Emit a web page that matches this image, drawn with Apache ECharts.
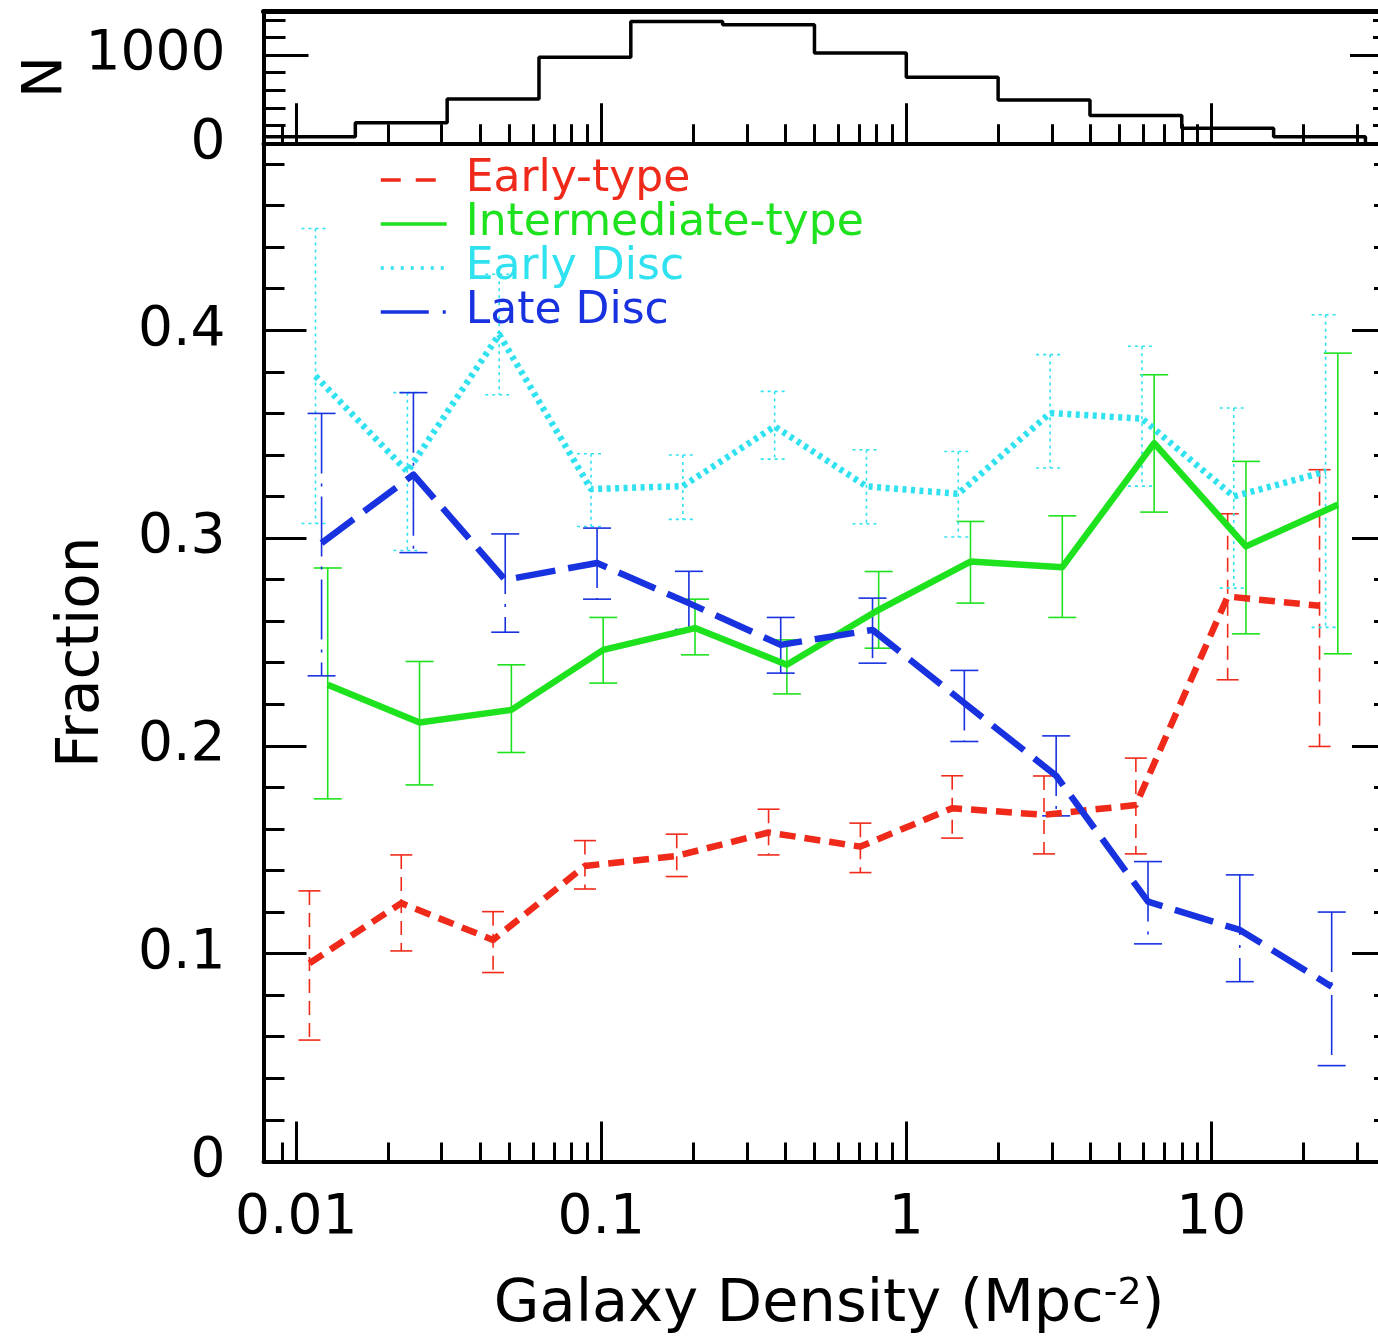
<!DOCTYPE html>
<html>
<head>
<meta charset="utf-8">
<script src="https://cdn.jsdelivr.net/npm/echarts@6/dist/echarts.min.js"></script>
<style>
html,body{margin:0;padding:0;background:#ffffff;}
#chart{width:1378px;height:1339px;}
</style>
</head>
<body>
<div id="chart"></div>
<script>
// ---------------- DATA ----------------
// Galaxy density bin centres (Mpc^-2), logarithmic bins of factor 2
const binCentres = [0.01105, 0.0221, 0.0442, 0.0884, 0.1768, 0.3536, 0.7071, 1.414, 2.828, 5.657, 11.31, 22.63];

// Histogram (top panel)
const histEdges  = [0.0078125, 0.015625, 0.03125, 0.0625, 0.125, 0.25, 0.5, 1, 2, 4, 8, 16, 32];
const histCounts = [75, 234, 503, 977, 1382, 1344, 1023, 750, 492, 314, 170, 75];

// Early-type (red)
const earlyType   = [0.0954, 0.1243, 0.1066, 0.1422, 0.1470, 0.1583, 0.1515, 0.1700, 0.1668, 0.1715, 0.2719, 0.2674];
const earlyTypeLo = [0.0584, 0.1013, 0.0909, 0.1311, 0.1371, 0.1475, 0.1390, 0.1556, 0.1480, 0.1480, 0.2318, 0.1997];
const earlyTypeHi = [0.1302, 0.1475, 0.1202, 0.1544, 0.1575, 0.1695, 0.1628, 0.1856, 0.1855, 0.1941, 0.3117, 0.3329];

// Intermediate-type (green)
const intermediate   = [0.2294, 0.2112, 0.2173, 0.2462, 0.2567, 0.2390, 0.2655, 0.2887, 0.2860, 0.3457, 0.2960, 0.3160];
const intermediateLo = [0.1745, 0.1812, 0.1968, 0.2302, 0.2438, 0.2250, 0.2470, 0.2687, 0.2618, 0.3125, 0.2539, 0.2443];
const intermediateHi = [0.2856, 0.2406, 0.2390, 0.2618, 0.2706, 0.2510, 0.2839, 0.3080, 0.3107, 0.3786, 0.3369, 0.3890];

// Early Disc (cyan)
const earlyDisc   = [0.3780, 0.3320, 0.3980, 0.3236, 0.3250, 0.3537, 0.3249, 0.3213, 0.3602, 0.3575, 0.3200, 0.3320];
const earlyDiscLo = [0.3070, 0.2940, 0.3690, 0.3056, 0.3090, 0.3380, 0.3069, 0.3005, 0.3337, 0.3250, 0.2759, 0.2570];
const earlyDiscHi = [0.4490, 0.3700, 0.4270, 0.3406, 0.3400, 0.3706, 0.3425, 0.3417, 0.3883, 0.3923, 0.3626, 0.4075];

// Late Disc (blue)
const lateDisc   = [0.2976, 0.3305, 0.2799, 0.2880, 0.2687, 0.2486, 0.2558, 0.2206, 0.1856, 0.1250, 0.1114, 0.0841];
const lateDiscLo = [0.2337, 0.2930, 0.2547, 0.2706, 0.2560, 0.2350, 0.2398, 0.2021, 0.1663, 0.1047, 0.0865, 0.0461];
const lateDiscHi = [0.3600, 0.3700, 0.3020, 0.3048, 0.2840, 0.2618, 0.2711, 0.2363, 0.2048, 0.1443, 0.1379, 0.1200];

// Small horizontal offsets applied per sample in the original plot (multiplicative in density)
const xShift = { early: 1.0, earlyDisc: 1.047, lateDisc: 1.096, intermediate: 1.148 };

// Axis ticks / labels
const xMajorLabels = ['0.01', '0.1', '1', '10'];
const xMinorTicks = [0.009, 0.02, 0.03, 0.04, 0.05, 0.06, 0.07, 0.08, 0.09,
                     0.2, 0.3, 0.4, 0.5, 0.6, 0.7, 0.8, 0.9,
                     2, 3, 4, 5, 6, 7, 8, 9, 20, 30];
const X_MIN = 0.0078125, X_MAX = 40;
const FRAC_MAX = 0.49, N_MAX = 1500;

// ---------------- STYLE ----------------
const FONT = 'DejaVu Sans';
const RED = '#f02a1a', GREEN = '#1ee21e', CYAN = '#30e2f0', BLUE = '#1832e0';
const BLACK = '#000000';

// ---------------- BUILD ----------------
function pts(ys, shift) { return ys.map((y, i) => [binCentres[i] * shift, y]); }
function bars(lo, hi, shift) { return lo.map((l, i) => [binCentres[i] * shift, l, hi[i]]); }

const histData = histCounts.map((c, i) => [histEdges[i], c]).concat([[histEdges[histEdges.length - 1], 0]]);

function errRender(color, dash, capDash, hw) {
  return function (params, api) {
    const x = api.value(0), lo = api.value(1), hi = api.value(2);
    const a = api.coord([x, hi]);
    const b = api.coord([x, lo]);
    const st = { stroke: color, lineWidth: 1.6, lineDash: dash, fill: null };
    const cst = { stroke: color, lineWidth: 1.6, lineDash: capDash, fill: null };
    return {
      type: 'group',
      children: [
        { type: 'line', shape: { x1: a[0], y1: a[1], x2: b[0], y2: b[1] }, style: st },
        { type: 'line', shape: { x1: a[0] - hw, y1: a[1], x2: a[0] + hw, y2: a[1] }, style: cst },
        { type: 'line', shape: { x1: b[0] - hw, y1: b[1], x2: b[0] + hw, y2: b[1] }, style: cst }
      ]
    };
  };
}

const tickStyle = { color: BLACK, width: 3 };
const noLine = { show: false, onZero: false };

function xLabelFmt(v) {
  const l = Math.log10(v);
  const r = Math.round(l);
  if (Math.abs(l - r) > 1e-6) return '';
  const idx = r + 2;
  return (idx >= 0 && idx < xMajorLabels.length) ? xMajorLabels[idx] : '';
}

const xAxes = [
  // 0: top panel, bottom edge (major)
  { gridIndex: 0, type: 'log', logBase: 10, position: 'bottom', min: X_MIN, max: X_MAX,
    axisLine: { show: true, onZero: false, lineStyle: { color: BLACK, width: 4 } },
    axisTick: { show: true, inside: true, length: 40, lineStyle: tickStyle },
    axisLabel: { show: false }, splitLine: { show: false } },
  // 1: top panel, bottom edge (minor)
  { gridIndex: 0, type: 'log', logBase: 10, position: 'bottom', min: X_MIN, max: X_MAX,
    axisLine: noLine,
    axisTick: { show: true, inside: true, length: 19, customValues: xMinorTicks, lineStyle: tickStyle },
    axisLabel: { show: false }, splitLine: { show: false } },
  // 2: top panel, top edge
  { gridIndex: 0, type: 'log', logBase: 10, position: 'top', min: X_MIN, max: X_MAX,
    axisLine: { show: true, onZero: false, lineStyle: { color: BLACK, width: 5 } },
    axisTick: { show: false }, axisLabel: { show: false }, splitLine: { show: false } },
  // 3: main panel bottom (major + labels)
  { gridIndex: 1, type: 'log', logBase: 10, position: 'bottom', min: X_MIN, max: X_MAX,
    axisLine: { show: true, onZero: false, lineStyle: { color: BLACK, width: 4 } },
    axisTick: { show: true, inside: true, length: 40, lineStyle: tickStyle },
    axisLabel: { show: true, margin: 30, color: BLACK, fontFamily: FONT, fontSize: 55,
                 showMinLabel: false, showMaxLabel: false, formatter: xLabelFmt },
    splitLine: { show: false },
    name: 'Galaxy Density (Mpc{sup|-2})', nameLocation: 'middle', nameGap: 114,
    nameTextStyle: { color: BLACK, fontFamily: FONT, fontSize: 59,
      rich: { sup: { fontFamily: FONT, fontSize: 38, verticalAlign: 'top', padding: [0, 0, 22, 0], color: BLACK } } } },
  // 4: main panel bottom (minor)
  { gridIndex: 1, type: 'log', logBase: 10, position: 'bottom', min: X_MIN, max: X_MAX,
    axisLine: noLine,
    axisTick: { show: true, inside: true, length: 19, customValues: xMinorTicks, lineStyle: tickStyle },
    axisLabel: { show: false }, splitLine: { show: false } }
];

function yAx(grid, pos, max, interval, len, extra) {
  const ax = { gridIndex: grid, type: 'value', position: pos, min: 0, max: max, interval: interval,
    axisLine: { show: false, onZero: false },
    axisTick: { show: true, inside: true, length: len, lineStyle: tickStyle },
    axisLabel: { show: false }, splitLine: { show: false } };
  return Object.assign(ax, extra || {});
}

const labelStyle = { show: true, margin: 38, color: BLACK, fontFamily: FONT, fontSize: 55, showMaxLabel: false,
                     formatter: function (v) { return String(v); } };

const yAxes = [
  // 0: top panel left major
  yAx(0, 'left', N_MAX, 1000, 45, {
    axisLine: { show: true, onZero: false, lineStyle: { color: BLACK, width: 4 } },
    axisLabel: labelStyle,
    name: 'N', nameLocation: 'middle', nameRotate: 90, nameGap: 153,
    nameTextStyle: { color: BLACK, fontFamily: FONT, fontSize: 56 } }),
  // 1: top panel left minor
  yAx(0, 'left', N_MAX, 200, 22),
  // 2: top panel right major
  yAx(0, 'right', N_MAX, 1000, 45, { axisLine: { show: true, onZero: false, lineStyle: { color: BLACK, width: 4 } } }),
  // 3: top panel right minor
  yAx(0, 'right', N_MAX, 200, 22),
  // 4: main left major
  yAx(1, 'left', FRAC_MAX, 0.1, 43, {
    axisLine: { show: true, onZero: false, lineStyle: { color: BLACK, width: 4 } },
    axisLabel: labelStyle,
    name: 'Fraction', nameLocation: 'middle', nameRotate: 90, nameGap: 152,
    nameTextStyle: { color: BLACK, fontFamily: FONT, fontSize: 58 } }),
  // 5: main left minor
  yAx(1, 'left', FRAC_MAX, 0.02, 21),
  // 6: main right major
  yAx(1, 'right', FRAC_MAX, 0.1, 43, { axisLine: { show: true, onZero: false, lineStyle: { color: BLACK, width: 4 } } }),
  // 7: main right minor
  yAx(1, 'right', FRAC_MAX, 0.02, 21)
];

function errSeries(name, lo, hi, shift, color, dash, capDash, hw) {
  return { type: 'custom', name: name + ' err', xAxisIndex: 3, yAxisIndex: 4,
    data: bars(lo, hi, shift), encode: { x: 0, y: [1, 2] },
    renderItem: errRender(color, dash, capDash, hw), silent: true, z: 2 };
}
function lineSeries(name, ys, shift, color, type, width) {
  return { type: 'line', name: name, xAxisIndex: 3, yAxisIndex: 4,
    data: pts(ys, shift), symbol: 'none', showSymbol: false, silent: true, z: 3,
    itemStyle: { color: color },
    lineStyle: { color: color, width: width, type: type, cap: 'butt', join: 'round' } };
}

const series = [
  { type: 'line', name: 'N', xAxisIndex: 0, yAxisIndex: 0, data: histData, step: 'end',
    symbol: 'none', showSymbol: false, silent: true,
    lineStyle: { color: BLACK, width: 3.5 }, itemStyle: { color: BLACK } },
  errSeries('Early-type', earlyTypeLo, earlyTypeHi, xShift.early, RED, [14, 8], null, 11),
  errSeries('Intermediate-type', intermediateLo, intermediateHi, xShift.intermediate, GREEN, null, null, 14),
  errSeries('Early Disc', earlyDiscLo, earlyDiscHi, xShift.earlyDisc, CYAN, [3, 4], [3, 4], 14),
  errSeries('Late Disc', lateDiscLo, lateDiscHi, xShift.lateDisc, BLUE, [60, 10, 3, 10], null, 14),
  lineSeries('Early-type', earlyType, xShift.early, RED, [16, 9], 6.5),
  lineSeries('Intermediate-type', intermediate, xShift.intermediate, GREEN, 'solid', 6.5),
  lineSeries('Early Disc', earlyDisc, xShift.earlyDisc, CYAN, [4, 4.5], 6.5),
  lineSeries('Late Disc', lateDisc, xShift.lateDisc, BLUE, [40, 13], 6.5)
];

const option = {
  animation: false,
  backgroundColor: '#ffffff',
  grid: [
    { left: 263.5, top: 11, width: 1131.5, height: 132.3, containLabel: false, outerBoundsMode: 'none' },
    { left: 263.5, top: 143.3, width: 1131.5, height: 1018.1, containLabel: false, outerBoundsMode: 'none' }
  ],
  xAxis: xAxes,
  yAxis: yAxes,
  legend: {
    orient: 'vertical', left: 374, top: 153, itemWidth: 66, itemHeight: 14, itemGap: 0,
    selectedMode: false,
    textStyle: { fontFamily: FONT, fontSize: 44, lineHeight: 44, padding: [0, 0, 0, 14] },
    data: [
      { name: 'Early-type', textStyle: { color: RED }, itemStyle: { opacity: 0 },
        lineStyle: { color: RED, width: 3.5, type: [20, 15] } },
      { name: 'Intermediate-type', textStyle: { color: GREEN }, itemStyle: { opacity: 0 },
        lineStyle: { color: GREEN, width: 3.5, type: 'solid' } },
      { name: 'Early Disc', textStyle: { color: CYAN }, itemStyle: { opacity: 0 },
        lineStyle: { color: CYAN, width: 3.5, type: [3, 7] } },
      { name: 'Late Disc', textStyle: { color: BLUE }, itemStyle: { opacity: 0 },
        lineStyle: { color: BLUE, width: 3.5, type: [48, 14, 3, 30] } }
    ]
  },
  series: series
};

const chart = echarts.init(document.getElementById('chart'), null, { renderer: 'canvas', width: 1378, height: 1339 });
chart.setOption(option);
</script>
</body>
</html>
